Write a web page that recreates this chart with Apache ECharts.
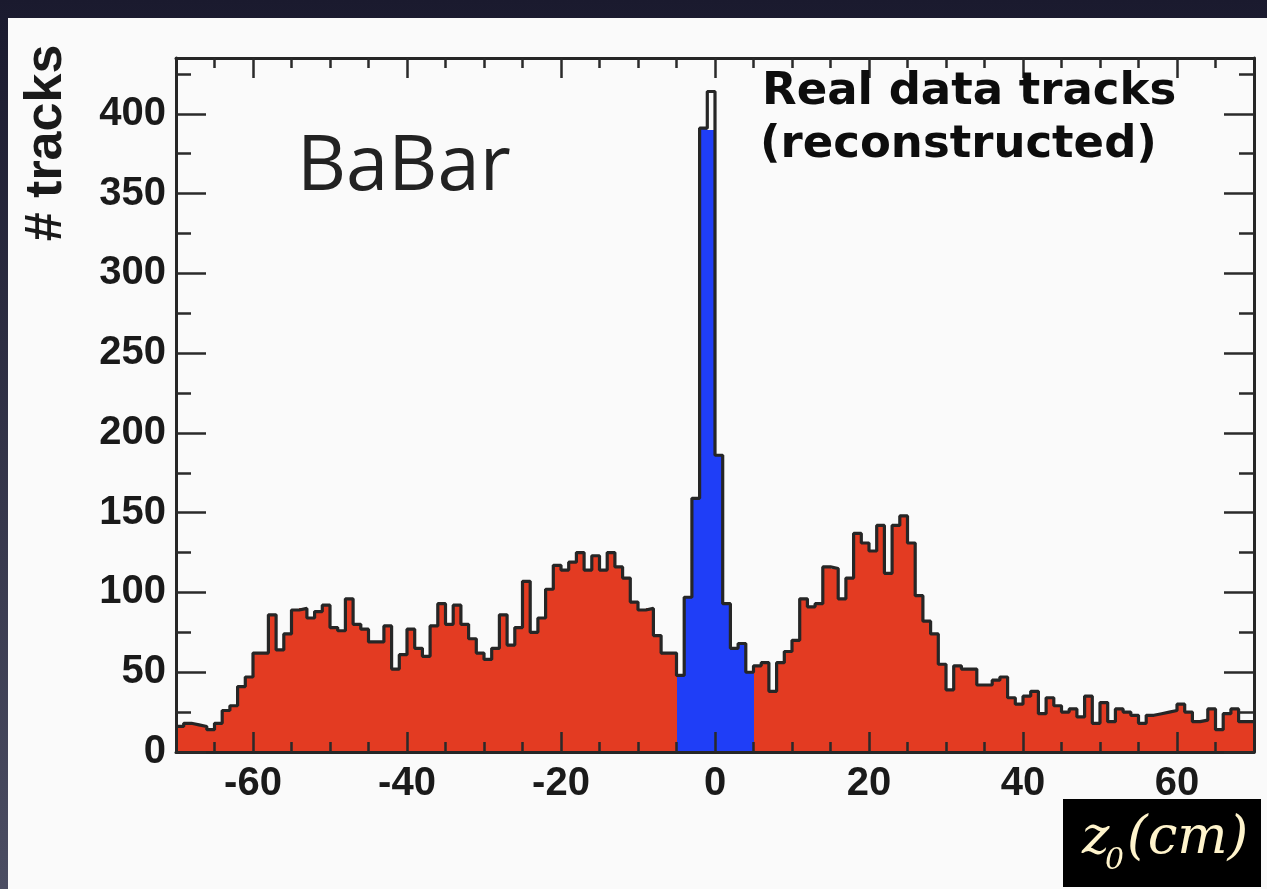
<!DOCTYPE html>
<html>
<head>
<meta charset="utf-8">
<script src="https://cdn.jsdelivr.net/npm/echarts@6/dist/echarts.min.js"></script>
<style>
html,body{margin:0;padding:0;background:#1c1d31;}
#c{width:1267px;height:889px;}
</style>
</head>
<body>
<div id="c"></div>
<script>
// ---- data: histogram of z0 (cm), 1 cm bins from -70 to 70 ----
const binStart = -70;
const binWidth = 1;
const counts = [
  16, 18, 17, 16, 14, 18, 26, 29, 41, 47,
  62, 62, 86, 64, 74, 89, 90, 84, 88, 92,
  78, 76, 96, 80, 77, 69, 69, 79, 52, 61,
  77, 65, 60, 79, 93, 80, 92, 80, 71, 62,
  58, 65, 86, 67, 78, 107, 75, 84, 102, 117,
  114, 119, 125, 114, 123, 114, 125, 116, 109, 94,
  89, 90, 73, 62, 62, 48, 97, 159, 391, 414,
  186, 93, 65, 68, 50, 54, 56, 38, 56, 63,
  70, 96, 91, 93, 116, 115, 96, 109, 137, 131,
  126, 142, 112, 142, 148, 131, 98, 82, 74, 55,
  39, 54, 52, 52, 42, 42, 45, 47, 34, 30,
  35, 38, 24, 34, 29, 25, 27, 22, 35, 18,
  31, 19, 27, 25, 23, 18, 23, 24, 25, 26,
  30, 25, 19, 20, 27, 14, 24, 27, 19, 19
];
// blue (selected) region: bins from -5 to 5, fill heights
const blueStart = -5;
const blueFill = [48, 97, 159, 391, 390, 186, 93, 65, 68, 50];

const xMajorTicks = [-60, -40, -20, 0, 20, 40, 60];
const xMinorTicks = [-65, -55, -50, -45, -35, -30, -25, -15, -10, -5, 5, 10, 15, 25, 30, 35, 45, 50, 55, 65];
const yMajorTicks = [0, 50, 100, 150, 200, 250, 300, 350, 400];
const yMinorTicks = [25, 75, 125, 175, 225, 275, 325, 375, 425];
const xMin = -70, xMax = 70, yMin = 0, yMax = 435;

const redColor = '#e33b22';
const blueColor = '#1f3ef7';
const lineColor = '#262626';

const fillData = counts.map((c, i) => {
  const x0 = binStart + i * binWidth;
  const bi = Math.round((x0 - blueStart) / binWidth);
  const isBlue = bi >= 0 && bi < blueFill.length;
  return [x0, x0 + binWidth, isBlue ? blueFill[bi] : c, isBlue ? 1 : 0];
});
const outlineData = counts.map((c, i) => [binStart + i * binWidth, c]);
outlineData.push([binStart + counts.length * binWidth, counts[counts.length - 1]]);

const tickStyle = {color: '#2a2a2a', width: 2.5};
const labelFont = {fontFamily: 'Liberation Sans, Arial, sans-serif', fontWeight: 'bold', fontSize: 40, color: '#1a1a1a'};

function xAx(pos, ticks, len, labels, line) {
  return {
    type: 'value', min: xMin, max: xMax, position: pos, z: 5,
    axisLine: {show: line, onZero: false, lineStyle: {color: lineColor, width: 3}},
    splitLine: {show: false},
    axisTick: {show: true, inside: true, length: len, lineStyle: tickStyle, customValues: ticks},
    axisLabel: labels ? Object.assign({show: true, margin: 12, customValues: ticks}, labelFont) : {show: false}
  };
}
function yAx(pos, ticks, len, labels, line) {
  return {
    type: 'value', min: yMin, max: yMax, position: pos, z: 5,
    axisLine: {show: line, onZero: false, lineStyle: {color: lineColor, width: 3}},
    splitLine: {show: false},
    axisTick: {show: true, inside: true, length: len, lineStyle: tickStyle, customValues: ticks},
    axisLabel: labels ? Object.assign({show: true, margin: 10, customValues: ticks}, labelFont) : {show: false}
  };
}

const chart = echarts.init(document.getElementById('c'), null, {renderer: 'canvas'});
chart.setOption({
  animation: false,
  backgroundColor: 'transparent',
  grid: {left: 176, top: 58, right: 13, bottom: 137, show: true, backgroundColor: '#fafafa', borderWidth: 0},
  xAxis: [
    xAx('bottom', xMajorTicks, 20, true, true),
    xAx('bottom', xMinorTicks, 10, false, false),
    xAx('top', xMajorTicks, 20, false, true),
    xAx('top', xMinorTicks, 10, false, false)
  ],
  yAxis: [
    yAx('left', yMajorTicks, 30, true, true),
    yAx('left', yMinorTicks, 15, false, false),
    yAx('right', yMajorTicks, 30, false, true),
    yAx('right', yMinorTicks, 15, false, false)
  ],
  graphic: [
    {type: 'rect', z: -200, shape: {x: 0, y: 0, width: 1267, height: 889},
      style: {fill: new echarts.graphic.LinearGradient(0, 0, 0, 1, [{offset: 0, color: '#1a1a2e'}, {offset: 1, color: '#4b4d62'}])}},
    {type: 'rect', z: -100, shape: {x: 8, y: 18, width: 1259, height: 871}, style: {fill: '#fafafa'}},
    {type: 'text', z: 100, x: 297, y: 168,
      style: {text: 'BaBar', font: '76px "Open Sans", sans-serif', fill: '#222222', verticalAlign: 'middle', align: 'left'}},
    {type: 'text', z: 100, x: 762, y: 92,
      style: {text: 'Real data tracks', font: 'bold 45px "DejaVu Sans", sans-serif', fill: '#0d0d0d', verticalAlign: 'middle', align: 'left'}},
    {type: 'text', z: 100, x: 760, y: 145,
      style: {text: '(reconstructed)', font: 'bold 45px "DejaVu Sans", sans-serif', fill: '#0d0d0d', verticalAlign: 'middle', align: 'left'}},
    {type: 'text', z: 100, x: 47, y: 143, rotation: Math.PI / 2,
      style: {text: '# tracks', font: 'bold 52px "Liberation Sans", Arial, sans-serif', fill: '#1a1a1a', verticalAlign: 'middle', align: 'center'}},
    {type: 'rect', z: 100, shape: {x: 1063, y: 799, width: 198, height: 88}, style: {fill: '#000000'}},
    {type: 'text', z: 101, x: 1082, y: 839,
      style: {text: 'z', font: 'italic 52px "DejaVu Serif", serif', fill: '#fff4cc', verticalAlign: 'middle', align: 'left'}},
    {type: 'text', z: 101, x: 1105, y: 861,
      style: {text: '0', font: 'italic 30px "DejaVu Serif", serif', fill: '#fff4cc', verticalAlign: 'middle', align: 'left'}},
    {type: 'text', z: 101, x: 1127, y: 839,
      style: {text: '(cm)', font: 'italic 53px "DejaVu Serif", serif', fill: '#fff4cc', verticalAlign: 'middle', align: 'left'}}
  ],
  series: [
    {
      type: 'custom', xAxisIndex: 0, yAxisIndex: 0, z: 2, clip: true,
      data: fillData,
      encode: {x: [0, 1], y: 2},
      renderItem: function (params, api) {
        const p0 = api.coord([api.value(0), 0]);
        const p1 = api.coord([api.value(1), api.value(2)]);
        const xa = Math.round(p0[0]), xb = Math.round(p1[0]);
        const yt = Math.round(p1[1]), yb = Math.round(p0[1]);
        return {
          type: 'rect',
          shape: {x: xa, y: yt, width: xb - xa, height: yb - yt},
          style: {fill: api.value(3) ? blueColor : redColor}
        };
      }
    },
    {
      type: 'line', xAxisIndex: 0, yAxisIndex: 0, z: 3, step: 'end', symbol: 'none', clip: true,
      data: outlineData,
      lineStyle: {color: lineColor, width: 3.2}
    }
  ]
});
</script>
</body>
</html>
